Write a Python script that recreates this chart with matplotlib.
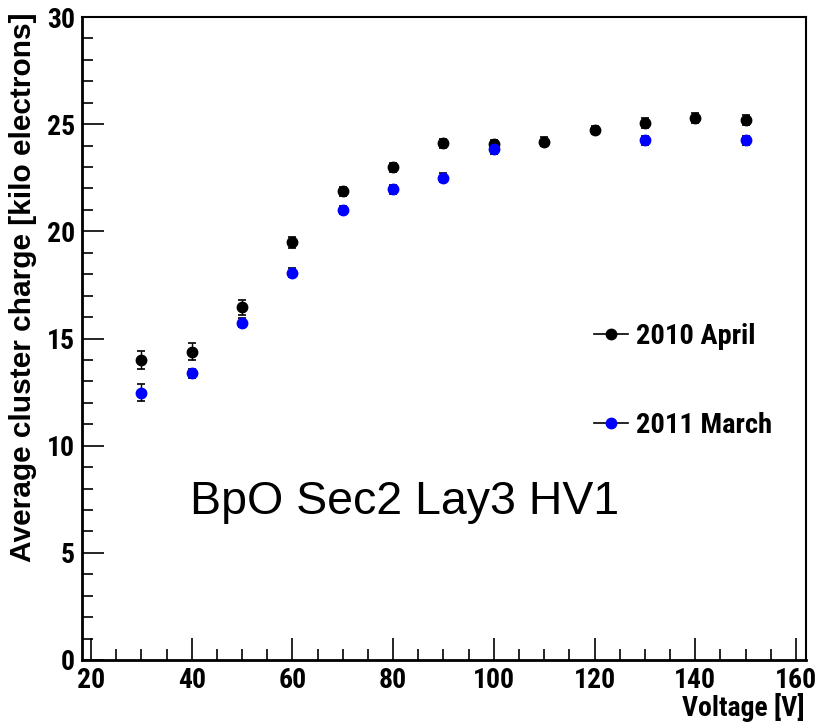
import matplotlib
matplotlib.use('Agg')
import matplotlib.pyplot as plt
from matplotlib.lines import Line2D
from matplotlib.ticker import MultipleLocator

plt.rcParams['font.family'] = ['Roboto Condensed', 'Liberation Sans', 'DejaVu Sans']

# data
volt_2010 = [30, 40, 50, 60, 70, 80, 90, 100, 110, 120, 130, 140, 150]
charge_2010 = [14.0, 14.39, 16.46, 19.49, 21.87, 22.99, 24.1, 24.06, 24.19, 24.73, 25.06, 25.29, 25.2]
err_2010 = [0.43, 0.38, 0.35, 0.25, 0.2, 0.2, 0.2, 0.2, 0.2, 0.2, 0.25, 0.25, 0.25]

volt_2011 = [30, 40, 50, 60, 70, 80, 90, 100, 130, 150]
charge_2011 = [12.47, 13.38, 15.74, 18.07, 21.0, 21.96, 22.5, 23.83, 24.25, 24.25]
err_2011 = [0.4, 0.2, 0.2, 0.2, 0.2, 0.2, 0.2, 0.2, 0.2, 0.2]

fig = plt.figure(figsize=(8.17, 7.25), dpi=100)
ax = fig.add_axes([82/817, 1-660/725, (806-82)/817, (660-17)/725])

ax.errorbar(volt_2010, charge_2010, yerr=err_2010, fmt='o', color='black',
            markersize=7.5, capsize=3, elinewidth=1, capthick=1.2)
ax.errorbar(volt_2011, charge_2011, yerr=err_2011, fmt='o', color='blue',
            ecolor='black', markersize=7.5, capsize=3, elinewidth=1, capthick=1.2)

ax.set_xlim(18.2, 162)
ax.set_ylim(0, 30)
ax.xaxis.set_major_locator(MultipleLocator(20))
ax.xaxis.set_minor_locator(MultipleLocator(5))
ax.yaxis.set_major_locator(MultipleLocator(5))
ax.yaxis.set_minor_locator(MultipleLocator(1))
ax.tick_params(which='both', direction='in', top=False, right=False, width=1.2)
ax.tick_params(which='major', length=16)
ax.tick_params(which='minor', length=8)
ax.tick_params(axis='both', labelsize=20)
ax.tick_params(axis='x', pad=5)
ax.tick_params(axis='y', pad=5)
for lab in ax.get_xticklabels() + ax.get_yticklabels():
    lab.set_fontweight('bold')
for s in ['left', 'bottom']:
    ax.spines[s].set_linewidth(2)
for s in ['top', 'right']:
    ax.spines[s].set_linewidth(1.5)

fig.text(0.028, 1-13/725, 'Average cluster charge [kilo electrons]', rotation=90,
         ha='center', va='top', fontsize=21.5, fontweight='bold',
         family=['Liberation Sans', 'DejaVu Sans'])
fig.text(805/817, 1-707/725, 'Voltage [V]', ha='right', va='center',
         fontsize=20, fontweight='bold')

ax.text(0.149, 0.227, 'BpO Sec2 Lay3 HV1', ha='left', va='baseline',
        fontsize=33.5, family=['Liberation Sans', 'DejaVu Sans'],
        transform=ax.transAxes)

handles = [Line2D([], [], color='black', marker='o', markersize=7.5, lw=1.2,
                  markerfacecolor='black', markeredgecolor='black'),
           Line2D([], [], color='black', marker='o', markersize=7.5, lw=1.2,
                  markerfacecolor='blue', markeredgecolor='blue')]
ax.legend(handles, ['2010 April', '2011 March'], loc='center left',
          bbox_to_anchor=(594/817, 1-381/725), bbox_transform=fig.transFigure,
          frameon=False, prop={'weight': 'bold', 'size': 20.5},
          handlelength=1.2, handletextpad=0.28, labelspacing=2.2,
          borderpad=0, borderaxespad=0)

fig.savefig('out.png', dpi=100)
